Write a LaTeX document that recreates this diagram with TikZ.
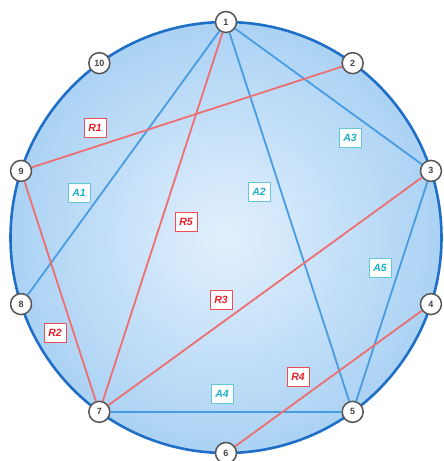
\documentclass[tikz,border=0pt]{standalone}
\usepackage{tikz}
\usetikzlibrary{calc}
\usepackage{fontspec}
\setsansfont{Liberation Sans}

\definecolor{ringblue}{HTML}{1F6FC8}
\definecolor{chordblue}{HTML}{4A9CE2}
\definecolor{chordred}{HTML}{EE6F72}
\definecolor{fillin}{HTML}{E2F0FD}
\definecolor{fillout}{HTML}{ABD2F4}
\definecolor{labred}{HTML}{E8202A}
\definecolor{labteal}{HTML}{1CB0C8}
\definecolor{vgray}{HTML}{555555}

\begin{document}
\begin{tikzpicture}[
    x=1pt, y=1pt,
    vert/.style={draw=vgray, line width=1.5pt, fill=white, circle,
                 minimum size=21pt, inner sep=0pt,
                 font=\sffamily\bfseries\fontsize{9}{9}\selectfont, text=vgray!80!black},
    achord/.style={draw=chordblue, line width=1.8pt},
    rchord/.style={draw=chordred, line width=1.8pt},
    alab/.style={draw=labteal!70, fill=white, line width=0.8pt, text=labteal,
                 minimum width=22pt, minimum height=19pt, inner sep=1pt,
                 font=\sffamily\bfseries\itshape\fontsize{10.5}{10.5}\selectfont},
    rlab/.style={alab, draw=labred!80, text=labred}
  ]
  \useasboundingbox (-226,-223.5) rectangle (218,237.5);

  % ring
  \shade[inner color=fillin, outer color=fillout] (0,0) circle (215.5);
  \draw[ringblue, line width=2.6pt] (0,0) circle (215.5);

  % vertices
  \node[vert] (n1) at (90:215.5) {1};
  \node[vert] (n2) at (54:215.5) {2};
  \node[vert] (n3) at (18:215.5) {3};
  \node[vert] (n4) at (-18:215.5) {4};
  \node[vert] (n5) at (-54:215.5) {5};
  \node[vert] (n6) at (-90:215.5) {6};
  \node[vert] (n7) at (-126:215.5) {7};
  \node[vert] (n8) at (-162:215.5) {8};
  \node[vert] (n9) at (162:215.5) {9};
  \node[vert] (n10) at (126:215.5) {10};

  % chords
  \draw[achord] (n1) -- (n8);
  \draw[achord] (n1) -- (n5);
  \draw[achord] (n1) -- (n3);
  \draw[achord] (n7) -- (n5);
  \draw[achord] (n3) -- (n5);
  \draw[rchord] (n9) -- (n2);
  \draw[rchord] (n9) -- (n7);
  \draw[rchord] (n7) -- (n3);
  \draw[rchord] (n6) -- (n4);
  \draw[rchord] (n7) -- (n1);

  % labels
  \node[rlab] (r1) at (-131,109.5) {R1};
  \node[alab] (a1) at (-147,45) {A1};
  \node[rlab] (r5) at (-40,15.5) {R5};
  \node[alab] (a2) at (33,45.5) {A2};
  \node[alab] (a3) at (124,99.5) {A3};
  \node[alab] (a5) at (154,-30.5) {A5};
  \node[rlab] (r3) at (-5,-62.5) {R3};
  \node[rlab] (r2) at (-171,-95.5) {R2};
  \node[rlab] (r4) at (72,-139.5) {R4};
  \node[alab] (a4) at (-4,-156.5) {A4};
\end{tikzpicture}
\end{document}
